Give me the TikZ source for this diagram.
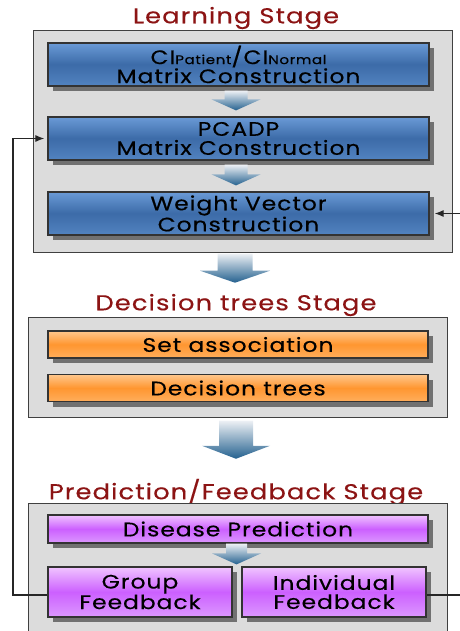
\documentclass[tikz,border=0pt]{standalone}
\usepackage{fontspec}
\setmainfont{Poppins}[FakeStretch=1.2, LetterSpace=5, FakeBold=0.35]
\usetikzlibrary{calc,shadows,arrows.meta}

\definecolor{stagefill}{HTML}{DCDCDC}
\definecolor{stageline}{HTML}{404040}
\definecolor{titlered}{HTML}{8C1414}
\definecolor{blueTop}{HTML}{6A9AD6}
\definecolor{blueMid}{HTML}{3C6BA8}
\definecolor{blueBot}{HTML}{5283C0}
\definecolor{orTop}{HTML}{FFC78C}
\definecolor{orMid}{HTML}{FF9630}
\definecolor{orBot}{HTML}{FFAE5C}
\definecolor{puTop}{HTML}{F0C4FF}
\definecolor{puMid}{HTML}{CC60FF}
\definecolor{puBot}{HTML}{DC98FF}
\definecolor{arrTop}{HTML}{EEF1F5}
\definecolor{arrBot}{HTML}{24618F}

% block arrow from the start point (#1) down to the tip (#2)
% #3 shaft half width, #4 head half width, #5 head length
\newcommand\blockarrow[5]{%
  \shade[top color=arrTop, bottom color=arrBot] let \p1=(#1), \p2=(#2) in
    (\x1-#3pt,\y1) -- (\x1+#3pt,\y1) -- (\x1+#3pt,\y2+#5pt) -- (\x1+#4pt,\y2+#5pt)
    -- (\x1,\y2) -- (\x1-#4pt,\y2+#5pt) -- (\x1-#3pt,\y2+#5pt) -- cycle;}

\begin{document}
\begin{tikzpicture}[x=1pt,y=-1pt,
  stagebox/.style={draw=stageline, line width=1pt, fill=stagefill, inner sep=0pt},
  stagetitle/.style={text=titlered, font=\fontsize{21.5}{21}\selectfont, inner sep=0pt},
  procbox/.style={draw=black!80, line width=1.2pt, inner sep=0pt, align=center,
    font=\fontsize{19.5}{19}\selectfont,
    drop shadow={shadow xshift=5pt, shadow yshift=-5pt, fill=black!60, opacity=0.9}},
  bluebox/.style={procbox, top color=blueTop, bottom color=blueBot, middle color=blueMid,
    minimum width=381pt, minimum height=43pt},
  orbox/.style={procbox, top color=orTop, bottom color=orBot, middle color=orMid,
    minimum width=380pt, minimum height=27pt},
  pubox/.style={procbox, top color=puTop, bottom color=puBot, middle color=puMid,
    minimum height=28pt},
  fb/.style={draw=black!85, line width=1.1pt},
  fbtip/.style={-{Latex[length=9pt,width=7pt]}}
]
\useasboundingbox (0,0) rectangle (459,631);

% Learning stage
\node[stagetitle] (t1) at (236,18) {Learning Stage};
\node[stagebox, minimum width=419pt, minimum height=221pt] (learn) at (242.5,141.5) {};
\node[bluebox] (B1) at (238.5,64.5)
  {CI{\fontsize{12.5}{12}\selectfont Patient}/CI{\fontsize{12.5}{12}\selectfont Normal}\\Matrix Construction};
\node[bluebox] (B2) at (238.5,138.5) {PCADP\\Matrix Construction};
\node[bluebox] (B3) at (238.5,213.5) {Weight Vector\\Construction};

% Decision trees stage
\node[stagetitle] (t2) at (236,305) {Decision trees Stage};
\node[stagebox, minimum width=419pt, minimum height=100pt] (dec) at (237.5,367) {};
\node[orbox] (O1) at (238,344.5) {Set association};
\node[orbox] (O2) at (238,388) {Decision trees};

% Prediction / feedback stage
\node[stagetitle] (t3) at (236,492) {Prediction/Feedback Stage};
\node[stagebox, minimum width=419pt, minimum height=140pt] (pred) at (237.5,573) {};
\node[pubox, minimum width=380pt] (P1) at (238,529) {Disease Prediction};
\node[pubox, minimum width=184pt, minimum height=50pt] (G) at (140,592) {Group\\Feedback};
\node[pubox, minimum width=184pt, minimum height=50pt] (I) at (334,592) {Individual\\Feedback};

% block arrows between the steps
\coordinate (a1s) at ($(B1.south)+(-2.5,4)$);
\coordinate (a1e) at ($(B2.north)+(-2.5,-6)$);
\blockarrow{a1s}{a1e}{11.5}{24.5}{11}
\coordinate (a2s) at ($(B2.south)+(-2.5,4)$);
\coordinate (a2e) at ($(B3.north)+(-2.5,-6)$);
\blockarrow{a2s}{a2e}{11.5}{24.5}{11}
\coordinate (A1s) at ($(learn.south)+(-7.5,1)$);
\coordinate (A1e) at ($(t2.north)+(-1,-11)$);
\blockarrow{A1s}{A1e}{17.5}{35}{12}
\coordinate (A2s) at ($(dec.south)+(-1.5,3)$);
\coordinate (A2e) at ($(t3.north)+(0,-20)$);
\blockarrow{A2s}{A2e}{17}{34}{13}
\coordinate (a3s) at ($(P1.south)+(-1.5,0)$);
\coordinate (a3e) at ($(G.north -| P1.south)+(-1.5,-2)$);
\blockarrow{a3s}{a3e}{10.5}{24.5}{11}

% feedback loops
\coordinate (lc) at (13,595);
\coordinate (rc) at (463,595);
\draw[fb, fbtip, shorten >=3pt] (G.west |- lc) -- (lc) |- (B2.west);
\draw[fb, fbtip, shorten >=5pt] (I.east |- rc) -- (rc) |- (B3.east);
\end{tikzpicture}
\end{document}
